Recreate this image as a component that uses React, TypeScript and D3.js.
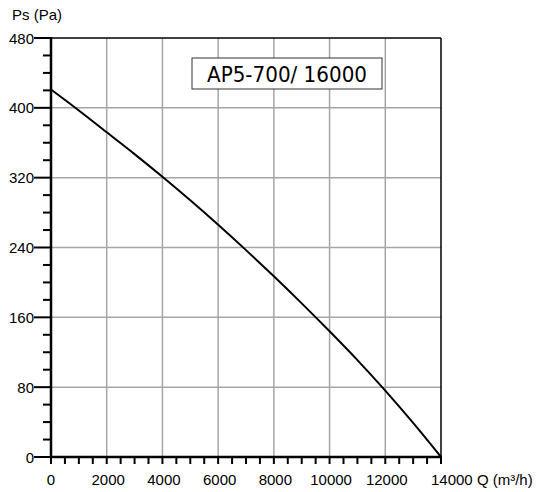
import React from "react"
import * as d3 from "d3"

// flow (m³/h) and static pressure (Pa)
const flow = [0, 1000, 2000, 3000, 4000, 5000, 6000, 7000, 8000, 9000, 10000, 11000, 12000, 13000, 14000]
const pressure = [421, 397, 372, 347, 321, 294, 266, 237, 207, 176, 144, 111, 76, 39, 0]

const xTicks = [0, 2000, 4000, 6000, 8000, 10000, 12000, 14000]
const yTicks = [0, 80, 160, 240, 320, 400, 480]
const title = "AP5-700/ 16000"

const W = 537
const H = 492
const font = "'Liberation Sans', Arial, sans-serif"

const App = () => {
  const x = d3.scaleLinear().domain([0, 14000]).range([51, 441])
  const y = d3.scaleLinear().domain([0, 480]).range([457, 38])

  const xMinor = d3.range(0, 14001, 500)
  const yMinor = d3.range(0, 481, 20).filter((v) => v % 80 !== 0)

  const line = d3
    .line<number>()
    .x((d, i) => x(flow[i]))
    .y((d) => y(d))
    .curve(d3.curveCatmullRom.alpha(0.5))

  return (
    <svg width={W} height={H} style={{ position: "absolute", left: 0, top: 0, background: "#fff" }}>
      {/* grid */}
      {xTicks.slice(1, -1).map((t) => (
        <line key={"gx" + t} x1={x(t)} x2={x(t)} y1={y(0)} y2={y(480)} stroke="#a6a6a6" strokeWidth={1.5} />
      ))}
      {yTicks.slice(1, -1).map((t) => (
        <line key={"gy" + t} x1={x(0)} x2={x(14000)} y1={y(t)} y2={y(t)} stroke="#a6a6a6" strokeWidth={1.5} />
      ))}

      {/* frame */}
      <line x1={x(0)} x2={x(14000)} y1={y(480)} y2={y(480)} stroke="#000" strokeWidth={1.5} />
      <line x1={x(14000)} x2={x(14000)} y1={y(480)} y2={y(0)} stroke="#000" strokeWidth={1.5} />

      {/* title box */}
      <rect x={192} y={58} width={190} height={31} fill="#fff" stroke="#333" strokeWidth={1} />
      <text x={287} y={82} textAnchor="middle" fontFamily="'DejaVu Sans', sans-serif" fontSize={21} textLength={160} lengthAdjust="spacingAndGlyphs" fill="#000">
        {title}
      </text>

      {/* curve */}
      <path d={line(pressure) || ""} fill="none" stroke="#000" strokeWidth={2} />

      {/* y axis */}
      <line x1={x(0)} x2={x(0)} y1={y(480) - 1} y2={y(0) + 1} stroke="#000" strokeWidth={2.5} />
      {yMinor.map((t) => (
        <line key={"my" + t} x1={43} x2={x(0)} y1={y(t)} y2={y(t)} stroke="#000" strokeWidth={2} />
      ))}
      {yTicks.map((t) => (
        <g key={"ty" + t}>
          <line x1={34} x2={x(0)} y1={y(t)} y2={y(t)} stroke="#000" strokeWidth={2} />
          <text x={34} y={y(t) + 5.5} textAnchor="end" fontFamily={font} fontSize={15} fill="#000">
            {t}
          </text>
        </g>
      ))}
      <text x={12} y={20} fontFamily={font} fontSize={15} fill="#000">
        Ps (Pa)
      </text>

      {/* x axis */}
      <line x1={x(0) - 1} x2={x(14000) + 1} y1={y(0)} y2={y(0)} stroke="#000" strokeWidth={2.5} />
      {xMinor.map((t) => (
        <line key={"mx" + t} x1={x(t)} x2={x(t)} y1={y(0)} y2={y(0) + 7} stroke="#000" strokeWidth={2} />
      ))}
      {xTicks.map((t, i) =>
        i === xTicks.length - 1 ? (
          <text key={"tx" + t} x={x(t) - 10} y={485} fontFamily={font} fontSize={15} fill="#000">
            {t + " Q (m³/h)"}
          </text>
        ) : (
          <text key={"tx" + t} x={x(t) + (t === 0 ? 0 : 1.5)} y={485} textAnchor="middle" fontFamily={font} fontSize={15} fill="#000">
            {t}
          </text>
        )
      )}
    </svg>
  )
}

export default App
